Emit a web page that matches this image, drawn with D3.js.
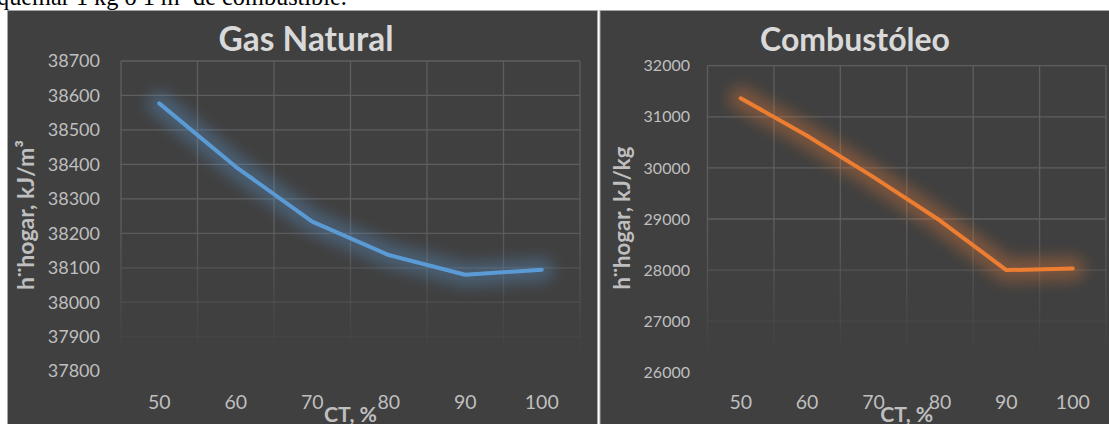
<!DOCTYPE html>
<html>
<head>
<meta charset="utf-8">
<script src="https://cdn.jsdelivr.net/npm/d3@7/dist/d3.min.js"></script>
<style>
html,body{margin:0;padding:0;background:#fff;}
svg{display:block;}
</style>
</head>
<body>
<svg id="chart" width="1109" height="424"></svg>
<script>
// ---- data ----
const categories = ["50", "60", "70", "80", "90", "100"];
const gasValues = [38577, 38393, 38234, 38137, 38080, 38094];
const fuelValues = [31362, 30630, 29820, 28970, 28000, 28030];
const gasTicks = [37800, 37900, 38000, 38100, 38200, 38300, 38400, 38500, 38600, 38700];
const fuelTicks = [26000, 27000, 28000, 29000, 30000, 31000, 32000];
const gasTitle = "Gas Natural";
const fuelTitle = "Combustóleo";
const gasYLabel = "h¨hogar, kJ/m³";
const fuelYLabel = "h¨hogar, kJ/kg";
const xLabel = "CT, %";
const captionText = "quemar 1 kg o 1 m³ de combustible.";

const svg = d3.select("#chart");
const FONT = "Lato, 'Open Sans', sans-serif";

function fit(sel, w) {
  const n = sel.node();
  const fs = parseFloat(sel.attr("font-size"));
  const len = n.getComputedTextLength();
  if (len > 0) sel.attr("font-size", fs * w / len);
}

// caption text cut off at the top
const cap = svg.append("text").attr("x", -3).attr("y", 5)
  .attr("font-family", "'Liberation Serif', 'Times New Roman', serif")
  .attr("font-size", 21).attr("fill", "#000").text(captionText);
fit(cap, 350);

const defs = svg.append("defs");
defs.append("filter").attr("id", "glow").attr("x", "-30%").attr("y", "-30%")
  .attr("width", "160%").attr("height", "160%")
  .append("feGaussianBlur").attr("stdDeviation", 7);

function drawChart(cfg) {
  const g = svg.append("g");
  // panel
  g.append("rect").attr("x", cfg.panel[0]).attr("y", cfg.panel[1])
    .attr("width", cfg.panel[2]).attr("height", cfg.panel[3])
    .attr("fill", "#404040").attr("stroke", "#a6a6a6").attr("stroke-width", 1);

  const x = d3.scaleBand().domain(categories).range([cfg.plot.left, cfg.plot.right]).padding(0);
  const y = d3.scaleLinear().domain([cfg.ticks[0], cfg.ticks[cfg.ticks.length - 1]])
    .range([cfg.plot.bottom, cfg.plot.top]);

  // gradient for fading gridlines
  const gid = "grad" + cfg.id;
  const grad = defs.append("linearGradient").attr("id", gid)
    .attr("gradientUnits", "userSpaceOnUse")
    .attr("x1", 0).attr("x2", 0).attr("y1", cfg.plot.top).attr("y2", cfg.plot.bottom);
  grad.append("stop").attr("offset", 0).attr("stop-color", "#5e5e5e").attr("stop-opacity", 1);
  grad.append("stop").attr("offset", 0.5).attr("stop-color", "#5e5e5e").attr("stop-opacity", 1);
  grad.append("stop").attr("offset", 0.95).attr("stop-color", "#5e5e5e").attr("stop-opacity", 0);
  grad.append("stop").attr("offset", 1).attr("stop-color", "#5e5e5e").attr("stop-opacity", 0);

  const grid = g.append("g").attr("stroke", `url(#${gid})`).attr("stroke-width", 1.3);
  grid.selectAll("line.h").data(cfg.ticks).join("line").attr("class", "h")
    .attr("x1", cfg.plot.left).attr("x2", cfg.plot.right)
    .attr("y1", d => y(d)).attr("y2", d => y(d));
  const bounds = d3.range(categories.length + 1).map(i => cfg.plot.left + i * x.bandwidth());
  grid.selectAll("line.v").data(bounds).join("line").attr("class", "v")
    .attr("x1", d => d).attr("x2", d => d)
    .attr("y1", cfg.plot.top).attr("y2", cfg.plot.bottom);

  // y axis
  const ya = g.append("g").attr("transform", `translate(${cfg.yTickEnd},0)`)
    .call(d3.axisLeft(y).tickValues(cfg.ticks).tickSize(0).tickPadding(0).tickFormat(d3.format("d")));
  ya.select(".domain").remove();
  ya.selectAll("text").attr("font-family", FONT).attr("font-size", cfg.yFont).attr("fill", "#bfbfbf");

  // x axis
  const xa = g.append("g").attr("transform", `translate(0,${cfg.xTickY})`)
    .call(d3.axisBottom(x).tickSize(0).tickPadding(0));
  xa.select(".domain").remove();
  xa.selectAll("text").attr("font-family", FONT).attr("font-size", 19.5).attr("fill", "#bfbfbf")
    .attr("dy", "0.35em");

  // line with glow
  const line = d3.line().x((d, i) => x(categories[i]) + x.bandwidth() / 2).y(d => y(d));
  g.append("path").datum(cfg.values).attr("d", line).attr("fill", "none")
    .attr("stroke", cfg.color).attr("stroke-width", 24).attr("stroke-opacity", 0.33)
    .attr("stroke-linejoin", "round").attr("stroke-linecap", "round")
    .attr("filter", "url(#glow)");
  g.append("path").datum(cfg.values).attr("d", line).attr("fill", "none")
    .attr("stroke", cfg.color).attr("stroke-width", 4)
    .attr("stroke-linejoin", "round").attr("stroke-linecap", "round");

  // titles
  const t = g.append("text").attr("x", cfg.titleX).attr("y", 51).attr("text-anchor", "middle")
    .attr("font-family", FONT).attr("font-weight", "bold").attr("font-size", 30)
    .attr("fill", "#d9d9d9").text(cfg.title);
  fit(t, cfg.titleW);

  const yl = g.append("text").attr("transform", `translate(${cfg.yLabelX},${cfg.yLabelY}) rotate(-90)`)
    .attr("text-anchor", "middle").attr("font-family", FONT).attr("font-weight", "bold")
    .attr("font-size", 17).attr("fill", "#bfbfbf").text(cfg.yLabel);
  fit(yl, cfg.yLabelW);

  const xl = g.append("text").attr("x", (cfg.plot.left + cfg.plot.right) / 2).attr("y", 422)
    .attr("text-anchor", "middle").attr("font-family", FONT).attr("font-weight", "bold")
    .attr("font-size", 17).attr("fill", "#bfbfbf").text(xLabel);
  fit(xl, 53);
}

drawChart({
  id: "gas", panel: [7.5, 10.5, 590, 420],
  plot: {left: 121, right: 580, top: 61, bottom: 371.2},
  ticks: gasTicks, values: gasValues, color: "#5b9bd5",
  yTickEnd: 100, yFont: 18, xTickY: 402,
  title: gasTitle, titleX: 306, titleW: 175,
  yLabel: gasYLabel, yLabelX: 34, yLabelY: 215, yLabelW: 150
});
drawChart({
  id: "fuel", panel: [600, 10.5, 515, 420],
  plot: {left: 707.5, right: 1106, top: 65.7, bottom: 372.3},
  ticks: fuelTicks, values: fuelValues, color: "#ed7d31",
  yTickEnd: 690, yFont: 16, xTickY: 402,
  title: fuelTitle, titleX: 855, titleW: 190,
  yLabel: fuelYLabel, yLabelX: 630, yLabelY: 218, yLabelW: 143
});
</script>
</body>
</html>
